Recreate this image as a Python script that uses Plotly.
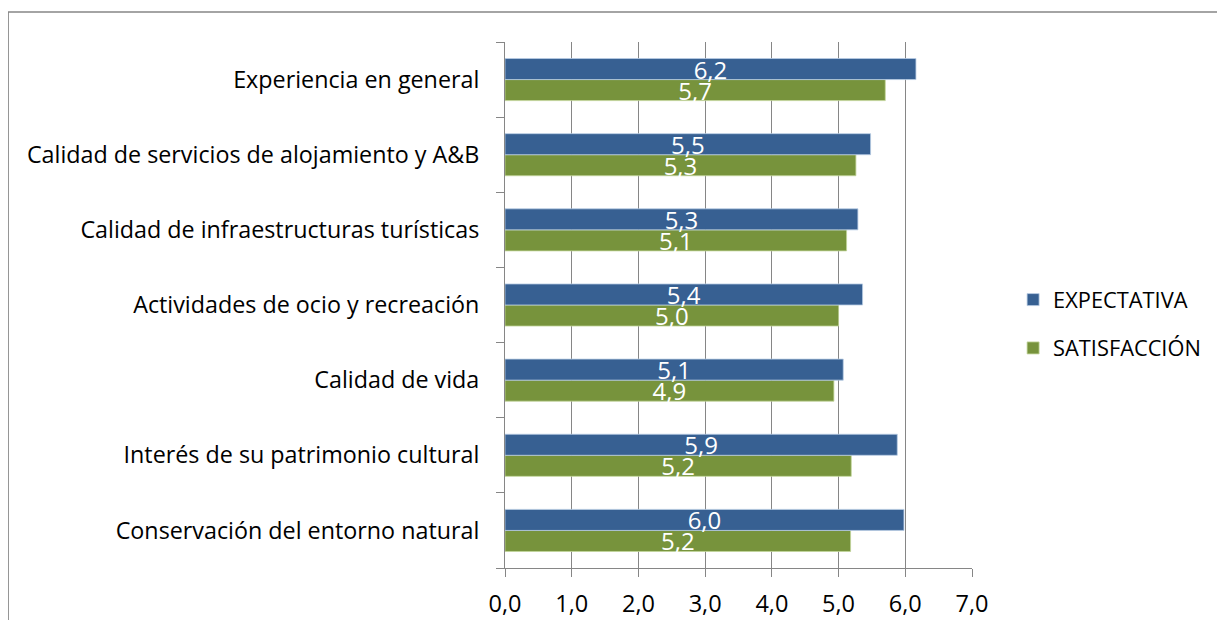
import plotly.graph_objects as go

categories = [
    "Conservación del entorno natural",
    "Interés de su patrimonio cultural",
    "Calidad de vida",
    "Actividades de ocio y recreación",
    "Calidad de infraestructuras turísticas",
    "Calidad de servicios de alojamiento y A&B",
    "Experiencia en general",
]
expectativa = [5.98, 5.88, 5.07, 5.36, 5.29, 5.48, 6.16]
satisfaccion = [5.18, 5.19, 4.93, 5.0, 5.12, 5.26, 5.70]

BLUE = "#376092"
GREEN = "#77933C"
FONT = "Open Sans"

fig = go.Figure()
fig.add_trace(go.Bar(
    y=categories, x=satisfaccion, orientation="h", name="SATISFACCIÓN",
    marker=dict(color=GREEN, line=dict(color="#C3D69B", width=0.8)),
    texttemplate="%{x:.1f}", textposition="inside", insidetextanchor="middle",
    constraintext="none", textfont=dict(color="white", size=24, family=FONT),
    legendgroup="s", legendrank=2,
))
fig.add_trace(go.Bar(
    y=categories, x=expectativa, orientation="h", name="EXPECTATIVA",
    marker=dict(color=BLUE, line=dict(color="#B9CDE5", width=0.8)),
    texttemplate="%{x:.1f}", textposition="inside", insidetextanchor="middle",
    constraintext="none", textfont=dict(color="white", size=24, family=FONT),
    legendgroup="e", legendrank=1,
))

fig.update_layout(
    width=1209, height=612,
    margin=dict(l=497, r=245, t=34, b=52, autoexpand=False),
    paper_bgcolor="white", plot_bgcolor="white",
    separators=",.",
    barmode="group", bargap=0.44, bargroupgap=0,
    font=dict(family=FONT, size=22, color="black"),
    showlegend=True,
    legend=dict(x=1.088, y=0.464, xanchor="left", yanchor="middle",
                traceorder="grouped", tracegroupgap=17,
                font=dict(size=21.8, family=FONT), itemwidth=30),
    xaxis=dict(range=[0, 7], dtick=1, tickformat=".1f",
               showgrid=True, gridcolor="#868686", gridwidth=1,
               showline=True, linecolor="#868686", linewidth=1,
               ticks="outside", ticklen=8, tickcolor="#868686",
               tickfont=dict(size=23.5, family=FONT), zeroline=False,
               ticklabelstandoff=7, automargin=False),
    yaxis=dict(tickson="boundaries", showgrid=False,
               showline=True, linecolor="#868686", linewidth=1,
               ticks="outside", ticklen=8, tickcolor="#868686",
               tickfont=dict(size=23.3, family=FONT),
               ticklabelstandoff=20, automargin=False),
    shapes=[dict(type="rect", xref="paper", yref="paper",
                 x0=-1.064, x1=1.6, y0=-0.3, y1=1.057,
                 line=dict(color="#868686", width=1.5), layer="below")],
)

fig.write_html("out.html")
